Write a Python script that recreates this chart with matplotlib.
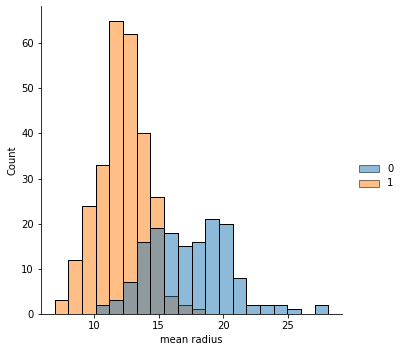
import numpy as np
import matplotlib
matplotlib.use("Agg")
import matplotlib.pyplot as plt
from matplotlib.patches import Patch

# bin edges of "mean radius" (20 equal bins)
bin_lo = 6.981
bin_hi = 28.11
n_bins = 20

# counts per bin, target 0 (malignant) and 1 (benign)
counts_0 = [0, 0, 0, 2, 3, 7, 16, 19, 18, 15, 16, 21, 20, 8, 2, 2, 2, 1, 0, 2]
counts_1 = [3, 12, 24, 33, 65, 62, 40, 26, 4, 2, 1, 0, 0, 0, 0, 0, 0, 0, 0, 0]

labels = ["0", "1"]
colors = ["#1f77b4", "#ff7f0e"]

edges = np.linspace(bin_lo, bin_hi, n_bins + 1)
widths = np.diff(edges)

fig = plt.figure(figsize=(400 / 72, 352 / 72), dpi=72)
ax = fig.add_axes([0.1025, 0.108, 0.7525, 0.875])

# second hue first, so the first one sits on top
for counts, c in [(counts_1, colors[1]), (counts_0, colors[0])]:
    ax.bar(edges[:-1], counts, width=widths, align="edge", color=c, alpha=0.5,
           edgecolor="black", linewidth=1)
    ax.bar(edges[:-1], counts, width=widths, align="edge", fill=False,
           edgecolor="black", linewidth=1)

ax.set_xlim(5.92, 29.17)
ax.set_ylim(0, 68.25)
ax.set_xticks([10, 15, 20, 25])
ax.set_yticks(range(0, 70, 10))
ax.set_xlabel("mean radius")
ax.set_ylabel("Count")
ax.spines["top"].set_visible(False)
ax.spines["right"].set_visible(False)
ax.tick_params(labelsize=10)

handles = [Patch(facecolor=c, alpha=0.5, edgecolor="black") for c in colors]
leg = fig.legend(handles, labels, loc="center left", bbox_to_anchor=(0.875, 0.5),
                 frameon=False, fontsize=10)
for h in leg.legend_handles:
    h.set_edgecolor("black")

fig.savefig("out.png", dpi=72)
